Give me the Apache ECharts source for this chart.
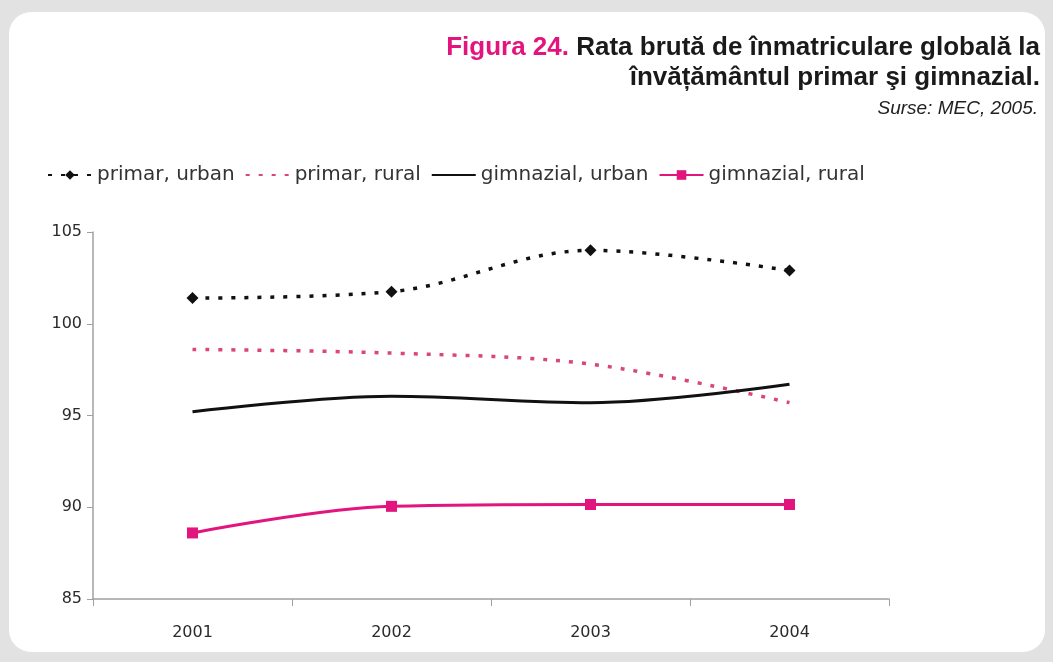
<!DOCTYPE html>
<html>
<head>
<meta charset="utf-8">
<script src="https://cdn.jsdelivr.net/npm/echarts@6/dist/echarts.min.js"></script>
<style>
  html, body { margin: 0; padding: 0; background: #e2e2e2; }
  #chart { width: 1053px; height: 662px; }
</style>
</head>
<body>
<div id="chart"></div>
<script>
// date
const years = ['2001', '2002', '2003', '2004'];
const primarUrban = [101.4, 101.75, 104.0, 102.9];
const primarRural = [98.6, 98.4, 97.8, 95.7];
const gimnazialUrban = [95.2, 96.05, 95.7, 96.7];
const gimnazialRural = [88.6, 90.05, 90.15, 90.15];
const seriesNames = ['primar, urban', 'primar, rural', 'gimnazial, urban', 'gimnazial, rural'];

const PINK = '#e2147d';
const PINK_DASH = '#d9467c';
const TITLE_FONT = '"Liberation Sans", Arial, sans-serif';
const FONT = '"DejaVu Sans", sans-serif';

const chart = echarts.init(document.getElementById('chart'));

chart.setOption({
  backgroundColor: '#e2e2e2',
  animation: false,
  graphic: [{
    type: 'rect',
    z: -10,
    shape: { x: 9, y: 12, width: 1036, height: 640, r: 22 },
    style: { fill: '#ffffff' }
  }, {
    // titlu, randul 1
    type: 'text',
    style: {
      x: 1040, y: 48,
      align: 'right', verticalAlign: 'middle',
      text: '{a|Figura 24.\u00a0}{b|Rata brută de înmatriculare globală la}',
      rich: {
        a: { font: 'bold 26px ' + TITLE_FONT, fill: PINK },
        b: { font: 'bold 26px ' + TITLE_FONT, fill: '#1a1a1a' }
      }
    }
  }, {
    type: 'text',
    style: {
      x: 1040, y: 78,
      align: 'right', verticalAlign: 'middle',
      text: 'învățământul primar şi gimnazial.',
      font: 'bold 26px ' + TITLE_FONT,
      fill: '#1a1a1a'
    }
  }, {
    type: 'text',
    style: {
      x: 1038, y: 109,
      align: 'right', verticalAlign: 'middle',
      text: 'Surse: MEC, 2005.',
      font: 'italic 19px ' + TITLE_FONT,
      fill: '#222'
    }
  }],
  legend: {
    left: 42,
    top: 160,
    itemWidth: 44,
    itemHeight: 12,
    itemGap: 10,
    data: [
      { name: seriesNames[0] },
      { name: seriesNames[1], itemStyle: { opacity: 0 } },
      { name: seriesNames[2], itemStyle: { opacity: 0 } },
      { name: seriesNames[3] }
    ],
    textStyle: { fontFamily: FONT, fontSize: 20, color: '#333' }
  },
  grid: { left: 93, right: 164, top: 232, bottom: 63 },
  xAxis: {
    type: 'category',
    data: years,
    boundaryGap: true,
    axisLine: { lineStyle: { color: '#a0a0a0', width: 1.5 } },
    axisTick: { show: true, length: 7, lineStyle: { color: '#a0a0a0' } },
    axisLabel: { margin: 26, fontFamily: FONT, fontSize: 16, color: '#2a2a2a' },
    splitLine: { show: false }
  },
  yAxis: {
    type: 'value',
    min: 85,
    max: 105,
    interval: 5,
    axisLine: { show: true, lineStyle: { color: '#a0a0a0', width: 1.5 } },
    axisTick: { show: true, length: 6, lineStyle: { color: '#a0a0a0' } },
    axisLabel: { margin: 11, fontFamily: FONT, fontSize: 16, color: '#2a2a2a' },
    splitLine: { show: false }
  },
  series: [{
    name: seriesNames[0],
    type: 'line',
    data: primarUrban,
    smooth: 0.35,
    symbol: 'diamond',
    symbolSize: 12,
    itemStyle: { color: '#111' },
    lineStyle: { color: '#111', width: 3.5, type: [4, 9] }
  }, {
    name: seriesNames[1],
    type: 'line',
    data: primarRural,
    smooth: 0.35,
    symbol: 'none',
    itemStyle: { color: PINK_DASH },
    lineStyle: { color: PINK_DASH, width: 3.5, type: [4, 9] }
  }, {
    name: seriesNames[2],
    type: 'line',
    data: gimnazialUrban,
    smooth: 0.35,
    symbol: 'none',
    itemStyle: { color: '#111' },
    lineStyle: { color: '#111', width: 3 }
  }, {
    name: seriesNames[3],
    type: 'line',
    data: gimnazialRural,
    smooth: 0.35,
    symbol: 'rect',
    symbolSize: 11,
    itemStyle: { color: PINK },
    lineStyle: { color: PINK, width: 3 }
  }]
});
</script>
</body>
</html>
